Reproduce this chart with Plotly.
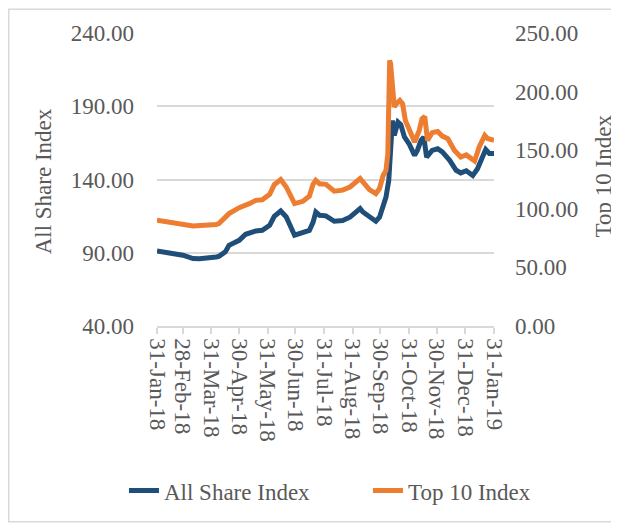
import plotly.graph_objects as go

# ---- data ----
all_share_dates = [
    "2018-01-31", "2018-02-13", "2018-02-28", "2018-03-11", "2018-03-18", "2018-04-05",
    "2018-04-08", "2018-04-15", "2018-04-19", "2018-04-30", "2018-05-07", "2018-05-18",
    "2018-05-25", "2018-06-02", "2018-06-07", "2018-06-14", "2018-06-20", "2018-06-29",
    "2018-07-08", "2018-07-15", "2018-07-19", "2018-07-22", "2018-07-26", "2018-08-02",
    "2018-08-11", "2018-08-20", "2018-08-28", "2018-09-02", "2018-09-08", "2018-09-11",
    "2018-09-18", "2018-09-25", "2018-09-29", "2018-10-03", "2018-10-06", "2018-10-09",
    "2018-10-10", "2018-10-13", "2018-10-15", "2018-10-19", "2018-10-22", "2018-10-26",
    "2018-10-31", "2018-11-06", "2018-11-09", "2018-11-13", "2018-11-16", "2018-11-19",
    "2018-11-25", "2018-12-01", "2018-12-06", "2018-12-14", "2018-12-21", "2018-12-26",
    "2019-01-01", "2019-01-08", "2019-01-13", "2019-01-19", "2019-01-22", "2019-01-26",
    "2019-01-31",
]
all_share = [
    91.2, 90.0, 88.3, 86.0, 85.9, 87.1,
    87.5, 90.6, 95.1, 98.5, 102.6, 104.9,
    105.3, 108.7, 114.9, 118.5, 114.4, 102.0,
    103.5, 105.2, 110.8, 117.8, 115.6, 115.2,
    111.5, 112.0, 114.3, 116.7, 120.1, 117.8,
    114.3, 111.5, 114.3, 123.5, 128.0, 139.4,
    153.0, 180.3, 170.1, 179.2, 177.5, 169.0,
    164.4, 156.5, 159.9, 166.7, 169.0, 155.3,
    159.9, 161.0, 158.8, 153.1, 146.3, 144.5,
    146.0, 142.8, 147.2, 156.5, 160.4, 157.7,
    157.7,
]

top10_dates = [
    "2018-01-31", "2018-02-13", "2018-02-28", "2018-03-11", "2018-04-05", "2018-04-08",
    "2018-04-19", "2018-04-30", "2018-05-11", "2018-05-18", "2018-05-25", "2018-06-02",
    "2018-06-07", "2018-06-14", "2018-06-20", "2018-06-29", "2018-07-08", "2018-07-15",
    "2018-07-19", "2018-07-22", "2018-07-26", "2018-08-02", "2018-08-11", "2018-08-20",
    "2018-08-28", "2018-09-02", "2018-09-08", "2018-09-11", "2018-09-18", "2018-09-25",
    "2018-09-29", "2018-10-03", "2018-10-06", "2018-10-08", "2018-10-09", "2018-10-10",
    "2018-10-11", "2018-10-15", "2018-10-17", "2018-10-21", "2018-10-24", "2018-10-27",
    "2018-10-31", "2018-11-06", "2018-11-11", "2018-11-14", "2018-11-17", "2018-11-20",
    "2018-11-25", "2018-12-01", "2018-12-06", "2018-12-12", "2018-12-19", "2018-12-26",
    "2019-01-01", "2019-01-04", "2019-01-10", "2019-01-15", "2019-01-21", "2019-01-24",
    "2019-01-31",
]
top10 = [
    90.2, 88.8, 87.4, 85.4, 86.5, 87.4,
    95.9, 101.0, 104.4, 107.2, 107.7, 112.4,
    120.6, 124.9, 118.6, 104.4, 106.4, 110.7,
    120.9, 124.3, 121.4, 120.9, 115.0, 115.9,
    118.6, 122.0, 125.8, 123.0, 116.4, 113.0,
    117.3, 128.6, 132.8, 147.0, 186.8, 226.6,
    223.8, 186.8, 189.6, 192.5, 189.6, 175.4,
    166.9, 157.0, 166.9, 176.8, 178.8, 158.4,
    165.0, 166.0, 162.0, 159.8, 149.9, 144.2,
    146.0, 144.2, 140.8, 152.7, 162.6, 160.0,
    158.4,
]

tick_dates = ["2018-01-31", "2018-02-28", "2018-03-31", "2018-04-30", "2018-05-31",
              "2018-06-30", "2018-07-31", "2018-08-31", "2018-09-30", "2018-10-31",
              "2018-11-30", "2018-12-31", "2019-01-31"]
tick_labels = ["31-Jan-18", "28-Feb-18", "31-Mar-18", "30-Apr-18", "31-May-18",
               "30-Jun-18", "31-Jul-18", "31-Aug-18", "30-Sep-18", "31-Oct-18",
               "30-Nov-18", "31-Dec-18", "31-Jan-19"]

left_ticks = [40, 90, 140, 190, 240]
right_ticks = [0, 50, 100, 150, 200, 250]

left_title = "All Share Index"
right_title = "Top 10 Index"

# ---- figure ----
FONT = "Liberation Serif, Times New Roman, serif"
GRAY = "#595959"
BLUE = "#1F4E79"
ORANGE = "#ED7D31"

fig = go.Figure()
fig.add_trace(go.Scatter(x=all_share_dates, y=all_share, name="All Share Index",
                         mode="lines", line=dict(color=BLUE, width=5), yaxis="y",
                         legend="legend"))
fig.add_trace(go.Scatter(x=top10_dates, y=top10, name="Top 10 Index",
                         mode="lines", line=dict(color=ORANGE, width=5), yaxis="y2",
                         legend="legend2"))

leg_common = dict(orientation="v", xanchor="left", yanchor="middle",
                  font=dict(family=FONT, size=23, color=GRAY),
                  bgcolor="rgba(0,0,0,0)")

fig.update_layout(
    width=619, height=523,
    margin=dict(l=149, r=133, t=24.5, b=205, autoexpand=False),
    paper_bgcolor="white", plot_bgcolor="white",
    font=dict(family=FONT, size=23, color=GRAY),
    showlegend=True,
    legend=dict(x=-0.098, y=-0.562, **leg_common),
    legend2=dict(x=0.626, y=-0.562, **leg_common),
    xaxis=dict(
        type="date", range=["2018-01-31", "2019-01-31"], automargin=False,
        tickmode="array", tickvals=tick_dates, ticktext=tick_labels,
        tickangle=90, ticks="outside", ticklen=6, tickcolor="#D9D9D9", tickwidth=1.5,
        showline=True, linecolor="#D9D9D9", linewidth=1.5,
        showgrid=False, zeroline=False,
        tickfont=dict(family=FONT, size=23, color=GRAY),
    ),
    yaxis=dict(
        range=[40, 240], tickmode="array", tickvals=left_ticks, automargin=False,
        ticktext=[f"{v:.2f}" for v in left_ticks],
        showgrid=True, gridcolor="#D9D9D9", gridwidth=1.5,
        showline=False, zeroline=False, ticks="",
        ticklabelstandoff=22,
        tickfont=dict(family=FONT, size=23, color=GRAY),
    ),
    yaxis2=dict(
        range=[0, 250], overlaying="y", side="right", tickmode="array", automargin=False,
        tickvals=right_ticks, ticktext=[f"{v:.2f}" for v in right_ticks],
        showgrid=False, showline=False, zeroline=False, ticks="",
        ticklabelstandoff=20,
        tickfont=dict(family=FONT, size=23, color=GRAY),
    ),
    annotations=[
        dict(text=left_title, xref="paper", yref="paper", x=-0.338, y=0.494,
             xanchor="center", yanchor="middle", textangle=-90, showarrow=False,
             font=dict(family=FONT, size=23, color=GRAY)),
        dict(text=right_title, xref="paper", yref="paper", x=1.3234, y=0.514,
             xanchor="center", yanchor="middle", textangle=-90, showarrow=False,
             font=dict(family=FONT, size=23, color=GRAY)),
    ],
    shapes=[dict(type="rect", xref="paper", yref="paper",
                 x0=-0.44, x1=1.43, y0=-0.668, y1=1.081,
                 line=dict(color="#D9D9D9", width=1.5), fillcolor="rgba(0,0,0,0)",
                 layer="below")],
)

fig.write_html("out.html")
